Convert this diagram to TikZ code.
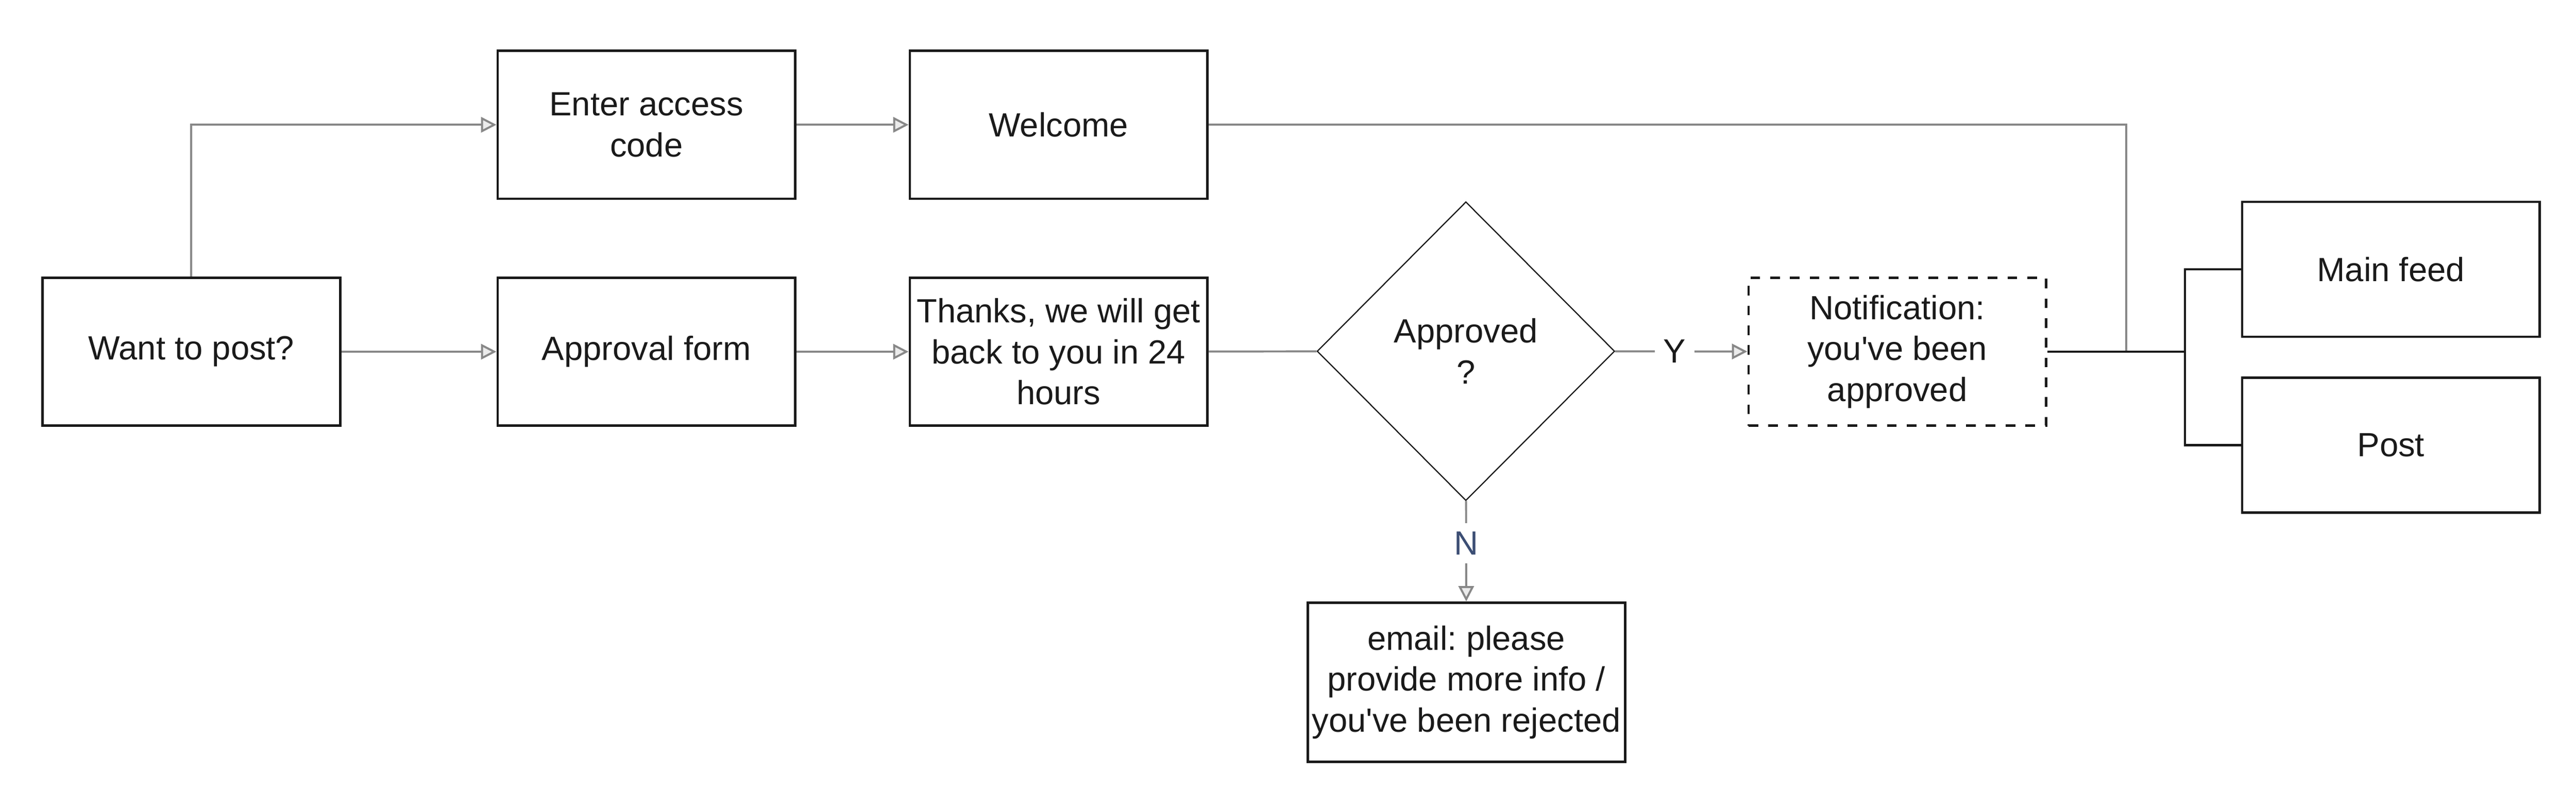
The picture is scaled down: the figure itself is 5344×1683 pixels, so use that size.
\documentclass[tikz,border=0pt]{standalone}
\usepackage{fontspec}
\setmainfont{Liberation Sans}
\usepackage{tikz}
\usetikzlibrary{arrows.meta}
\usetikzlibrary{quotes}
\usetikzlibrary{shapes.geometric}
\definecolor{ink}{HTML}{1A1A1A}
\definecolor{linegray}{HTML}{888888}
\definecolor{nblue}{HTML}{3C4E74}
\frenchspacing

\begin{document}
\begin{tikzpicture}[x=0.01cm,y=-0.01cm,font=\fontsize{19.8}{24.2}\selectfont,every edge quotes/.style={fill=white,inner sep=5pt,text=ink},box/.style={draw=ink,line width=1.4pt,text=ink,align=center,inner sep=0pt,minimum width=6.17cm,minimum height=3.07cm},link/.style={draw=linegray,line width=1.2pt},flow/.style={link,-{Triangle[length=3.2mm,width=3.2mm,fill=black!8]}},bar/.style={draw=ink,line width=1.3pt}]
\useasboundingbox (0,0) rectangle (5344,1683);
\node[box] (want) at (397,730) {Want to post?};
\node[box] (enter) at (1341,259) {Enter access\\code};
\node[box] (welcome) at (2196,259) {Welcome};
\node[box] (form) at (1341,730) {Approval form};
\node[box] (thanks) at (2196,730) {Thanks, we will get\\back to you in 24\\hours};
\node[box,shape=diamond,aspect=1,line width=0.7pt,minimum height=6.2cm] (dec) at (3041,729) {Approved\\?};
\node[box,dash pattern=on 0.2cm off 0.21cm] (note) at (3936,730) {Notification:\\you\textquotesingle ve been\\approved};
\node[box,minimum height=2.8cm] (feed) at (4960,559) {Main feed};
\node[box,minimum height=2.8cm] (post) at (4960,924) {Post};
\node[box,minimum width=6.58cm,minimum height=3.3cm] (mail) at (3042,1416) {email: please\\provide more info /\\you\textquotesingle ve been rejected};
\coordinate (join) at (4411,730);
\coordinate (split) at (4533,730);
\draw[flow] (want) |- (enter);
\draw[flow] (enter) -- (welcome);
\draw[flow] (want) -- (form);
\draw[flow] (form) -- (thanks);
\draw[link] (thanks) -- (dec);
\draw (dec) edge["Y" pos=0.45,flow] (note);
\draw (dec) edge["\textcolor{nblue}{N}" pos=0.42,flow] (mail);
\draw[link] (welcome) -| (join);
\draw[bar] (note) -- (split);
\draw[bar] (feed.west) -| (split) |- (post.west);
\end{tikzpicture}
\end{document}
